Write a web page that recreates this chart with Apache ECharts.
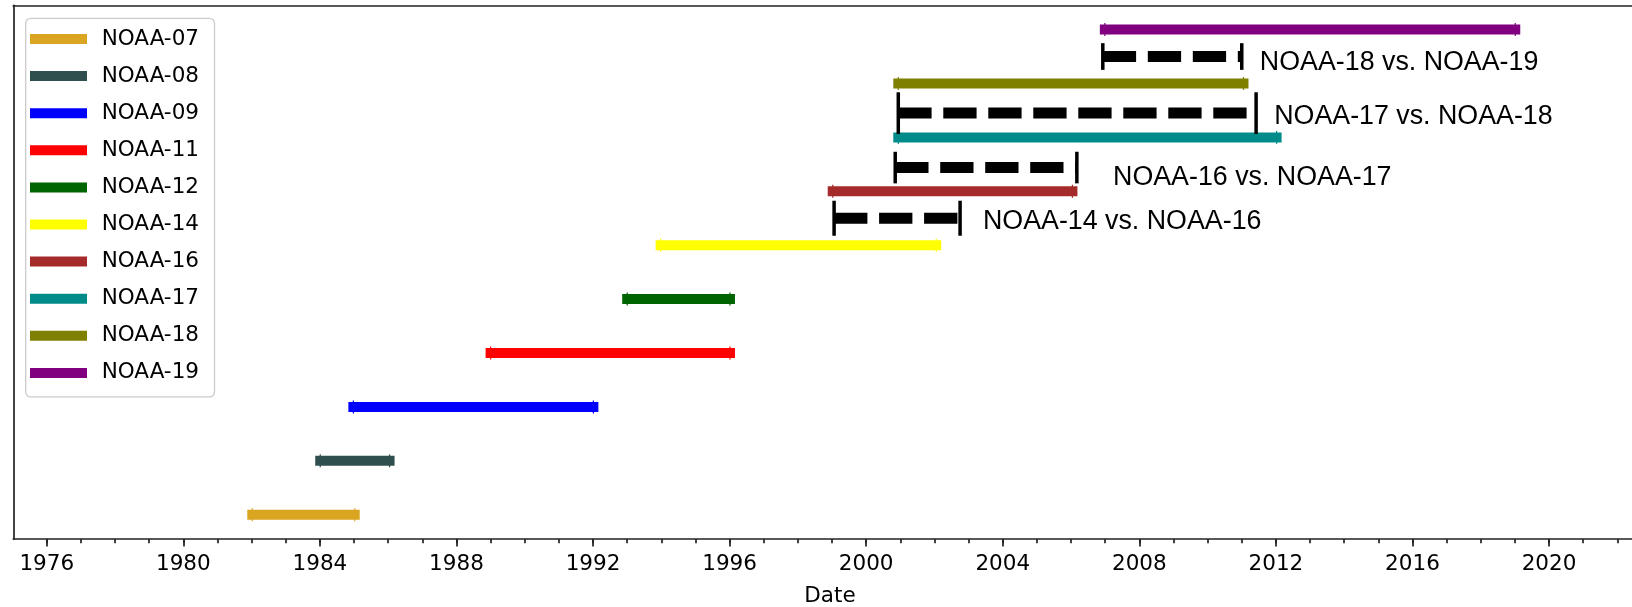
<!DOCTYPE html>
<html>
<head>
<meta charset="utf-8">
<script src="https://cdn.jsdelivr.net/npm/echarts@6/dist/echarts.min.js"></script>
<style>
  html, body { margin: 0; padding: 0; background: #fff; }
  #chart { width: 1632px; height: 607px; }
</style>
</head>
<body>
<div id="chart"></div>
<script>
// ---- data ----
const satellites = ['NOAA-07', 'NOAA-08', 'NOAA-09', 'NOAA-11', 'NOAA-12', 'NOAA-14', 'NOAA-16', 'NOAA-17', 'NOAA-18', 'NOAA-19'];
const startYear = [1982.02, 1984.01, 1984.98, 1989.00, 1993.00, 1993.98, 1999.02, 2000.94, 2000.94, 2006.99];
const endYear   = [1985.02, 1986.04, 1992.01, 1996.01, 1996.01, 2002.05, 2006.04, 2012.02, 2011.05, 2019.01];
const rowIndex  = [1, 2, 3, 4, 5, 6, 7, 8, 9, 10];

const compareLabels = ['NOAA-14 vs. NOAA-16', 'NOAA-16 vs. NOAA-17', 'NOAA-17 vs. NOAA-18', 'NOAA-18 vs. NOAA-19'];
const compareStart  = [1999.06, 2000.85, 2000.94, 2006.93];
const compareEnd    = [2002.75, 2006.17, 2011.42, 2011.00];
const compareRow    = [6.50, 7.44, 8.45, 9.50];
const labelX        = [2003.42, 2007.23, 2011.95, 2011.53];
const labelY        = [6.44, 7.26, 8.38, 9.38];

const majorTicks = [1976, 1980, 1984, 1988, 1992, 1996, 2000, 2004, 2008, 2012, 2016, 2020];
const minorTicks = [1975, 1976, 1977, 1978, 1979, 1980, 1981, 1982, 1983, 1984, 1985, 1986, 1987, 1988, 1989, 1990,
                    1991, 1992, 1993, 1994, 1995, 1996, 1997, 1998, 1999, 2000, 2001, 2002, 2003, 2004, 2005, 2006,
                    2007, 2008, 2009, 2010, 2011, 2012, 2013, 2014, 2015, 2016, 2017, 2018, 2019, 2020, 2021, 2022];

// ---- styles ----
const barColors = ['#DAA520', '#2F4F4F', '#0000FF', '#FF0000', '#006400', '#FFFF00', '#A52A2A', '#008B8B', '#808000', '#800080'];
const endMarkerPx = [35, 31.6, 41.7, 26.7];
const X_MIN = 1975.02, X_MAX = 2022.86;
const AXIS_FONT = 'DejaVu Sans';
const ANNO_FONT = 'Liberation Sans';
const SPINE = { color: '#222', width: 1.7 };

const series = [];
satellites.forEach((name, i) => {
  series.push({
    type: 'line',
    name: name,
    data: [[startYear[i], rowIndex[i]], [endYear[i], rowIndex[i]]],
    color: barColors[i],
    lineStyle: { width: 10, cap: 'square', color: barColors[i] },
    symbol: 'rect',
    symbolSize: [1.2, 13],
    showSymbol: true,
    itemStyle: { color: barColors[i] },
    silent: true,
    z: 2
  });
});
compareLabels.forEach((lab, i) => {
  series.push({
    type: 'line',
    name: lab,
    data: [[compareStart[i], compareRow[i]], [compareEnd[i], compareRow[i]]],
    lineStyle: { width: 11, type: [33.3, 11.7], color: '#000', cap: 'butt' },
    symbol: 'rect',
    symbolSize: [3.5, endMarkerPx[i]],
    showSymbol: true,
    itemStyle: { color: '#000' },
    silent: true,
    z: 3
  });
});
series.push({
  type: 'scatter',
  name: 'labels',
  symbolSize: 0,
  itemStyle: { color: '#000', opacity: 1 },
  silent: true,
  data: compareLabels.map((t, i) => ({ name: t, value: [labelX[i], labelY[i]] })),
  label: {
    show: true,
    formatter: '{b}',
    position: [0, 0],
    align: 'left',
    verticalAlign: 'middle',
    fontSize: 26.8,
    fontFamily: ANNO_FONT,
    color: '#000',
    opacity: 1
  },
  z: 4
});

const chart = echarts.init(document.getElementById('chart'), null, { renderer: 'canvas' });
chart.setOption({
  animation: false,
  backgroundColor: '#fff',
  grid: {
    left: 13.3, right: -14.7, top: 5.3, bottom: 68,
    outerBoundsMode: 'none',
    containLabel: false,
    show: false
  },
  legend: {
    data: satellites,
    orient: 'vertical',
    left: 25.7,
    top: 18.3,
    icon: 'rect',
    itemWidth: 57,
    itemHeight: 10,
    itemGap: 11.1,
    padding: [7.7, 15.5, 11, 4.3],
    backgroundColor: 'rgba(255,255,255,0.8)',
    borderColor: '#cccccc',
    borderWidth: 1.3,
    borderRadius: 5,
    textStyle: { fontSize: 21.5, fontFamily: AXIS_FONT, color: '#000', lineHeight: 26, padding: [0, 0, 0, 9.7] },
    selectedMode: false
  },
  xAxis: [{
    type: 'value',
    min: X_MIN, max: X_MAX,
    position: 'bottom',
    name: 'Date',
    nameLocation: 'middle',
    nameGap: 46.5,
    nameTextStyle: { fontSize: 21.5, fontFamily: AXIS_FONT, color: '#000' },
    axisLine: { show: true, onZero: false, lineStyle: SPINE },
    axisTick: { show: true, customValues: majorTicks, length: 7.5, lineStyle: SPINE },
    axisLabel: { show: true, customValues: majorTicks, margin: 14, fontSize: 21.5, fontFamily: AXIS_FONT, color: '#000',
                 formatter: v => String(Math.round(v)) },
    splitLine: { show: false }
  }, {
    type: 'value',
    min: X_MIN, max: X_MAX,
    position: 'bottom',
    axisLine: { show: false, onZero: false },
    axisTick: { show: true, customValues: minorTicks, length: 4.3, lineStyle: SPINE },
    axisLabel: { show: false },
    splitLine: { show: false }
  }, {
    type: 'value',
    min: X_MIN, max: X_MAX,
    position: 'top',
    axisLine: { show: true, onZero: false, lineStyle: SPINE },
    axisTick: { show: false },
    axisLabel: { show: false },
    splitLine: { show: false }
  }],
  yAxis: {
    type: 'value',
    min: 0.55, max: 10.45,
    position: 'left',
    axisLine: { show: true, onZero: false, lineStyle: SPINE },
    axisTick: { show: false },
    axisLabel: { show: false },
    splitLine: { show: false }
  },
  series: series
});
</script>
</body>
</html>
